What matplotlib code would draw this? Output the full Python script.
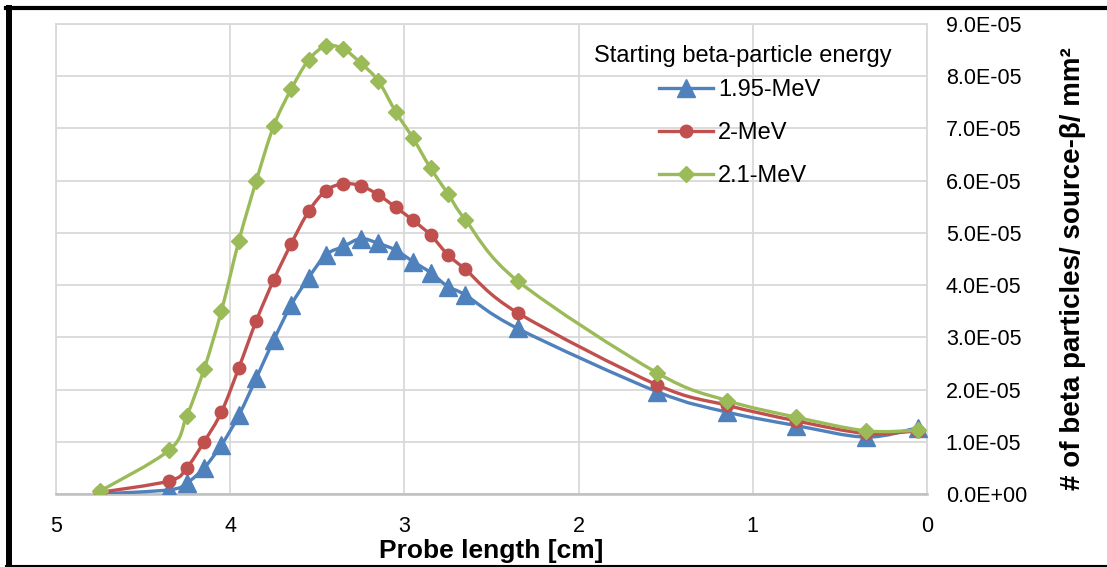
import matplotlib
matplotlib.use("Agg")
import matplotlib.pyplot as plt
import numpy as np
from matplotlib.path import Path
from matplotlib.patches import PathPatch
from matplotlib.lines import Line2D
from matplotlib.ticker import FuncFormatter

plt.rcParams['font.family'] = ['Liberation Sans', 'DejaVu Sans']

# probe length [cm]
probe_len = [4.75, 4.35, 4.25, 4.15, 4.05, 3.95, 3.85, 3.75, 3.65, 3.55, 3.45,
             3.35, 3.25, 3.15, 3.05, 2.95, 2.85, 2.75, 2.65, 2.35, 1.55, 1.15,
             0.75, 0.35, 0.05]

# beta particles / source-beta / mm^2 (units of 1E-05)
e195 = [0.00, 0.08, 0.21, 0.50, 0.94, 1.51, 2.22, 2.95, 3.62, 4.14, 4.58,
        4.74, 4.89, 4.80, 4.67, 4.45, 4.24, 3.97, 3.81, 3.17, 1.96, 1.57,
        1.31, 1.09, 1.27]
e200 = [0.03, 0.25, 0.50, 1.00, 1.57, 2.42, 3.32, 4.10, 4.79, 5.41, 5.81,
        5.94, 5.90, 5.73, 5.49, 5.24, 4.96, 4.58, 4.30, 3.47, 2.09, 1.70,
        1.40, 1.16, 1.21]
e210 = [0.05, 0.84, 1.49, 2.39, 3.51, 4.85, 6.00, 7.05, 7.75, 8.31, 8.58,
        8.52, 8.25, 7.91, 7.32, 6.81, 6.24, 5.75, 5.25, 4.08, 2.32, 1.79,
        1.47, 1.21, 1.22]

labels = ["1.95-MeV", "2-MeV", "2.1-MeV"]
colors = ["#4F81BD", "#C0504D", "#9BBB59"]
markers = ["^", "o", "D"]
msizes = [12.5, 9, 8.5]


def smooth_path(x, y):
    # excel style smoothed line (catmull-rom as bezier segments)
    pts = np.column_stack([x, y])
    verts = [pts[0]]
    codes = [Path.MOVETO]
    n = len(pts)
    for i in range(n - 1):
        p0 = pts[i - 1] if i > 0 else pts[i]
        p1 = pts[i]
        p2 = pts[i + 1]
        p3 = pts[i + 2] if i + 2 < n else pts[i + 1]
        verts += [p1 + (p2 - p0) / 6, p2 - (p3 - p1) / 6, p2]
        codes += [Path.CURVE4] * 3
    return Path(verts, codes)


fig = plt.figure(figsize=(11.07, 5.67), dpi=100)
ax = fig.add_axes([56 / 1107, 73 / 567, 871 / 1107, 470 / 567])

x = np.array(probe_len)
handles = []
for vals, lab, c, m, ms in zip([e195, e200, e210], labels, colors, markers, msizes):
    y = np.array(vals) * 1e-5
    ax.add_patch(PathPatch(smooth_path(x, y), fc="none", ec=c, lw=2.4, zorder=3))
    ax.plot(x, y, ls="none", marker=m, ms=ms, color=c, mec=c, zorder=4)
    handles.append(Line2D([], [], color=c, lw=2.4, marker=m, ms=ms, mec=c))

ax.set_xlim(5, 0)
ax.set_ylim(0, 9e-5)
ax.set_xticks([5, 4, 3, 2, 1, 0])
ax.set_yticks(np.arange(0, 9.1e-5, 1e-5))
ax.yaxis.set_major_formatter(FuncFormatter(lambda v, p: f"{v:.1E}"))
ax.yaxis.tick_right()
ax.yaxis.set_label_position("right")
ax.tick_params(length=0)
ax.tick_params(axis="x", labelsize=15.5, pad=16)
ax.tick_params(axis="y", labelsize=15.5, pad=13.5)
ax.grid(True, color="#d9d9d9", lw=1.3)
ax.set_axisbelow(True)
for s in ax.spines.values():
    s.set_color("#d9d9d9")
    s.set_linewidth(1.3)
ax.spines["bottom"].set_color("#bfbfbf")
ax.spines["bottom"].set_linewidth(1.8)

ax.set_xlabel("Probe length [cm]", fontsize=19, fontweight="bold", labelpad=1)
ax.set_ylabel("# of beta particles/ source-\u03b2/ mm\u00b2", fontsize=20,
              fontweight="bold", labelpad=24)
ax.yaxis.label.set_y(0.48)

ax.text(0.789, 0.932, "Starting beta-particle energy", transform=ax.transAxes,
        ha="center", va="center", fontsize=17)
leg = ax.legend(handles, labels, loc="upper left", bbox_to_anchor=(0.692, 0.882),
                frameon=False, fontsize=17, handlelength=2.3,
                handletextpad=0.2, labelspacing=0.88, borderaxespad=0,
                borderpad=0)

# black frame around the chart
fig.add_artist(Line2D([9 / 1107, 9 / 1107], [0, 1 - 8 / 567], color="black", lw=4.3))
fig.add_artist(Line2D([6 / 1107, 1], [1 - 8 / 567, 1 - 8 / 567], color="black", lw=3))
fig.add_artist(Line2D([6 / 1107, 1], [1.5 / 567, 1.5 / 567], color="black", lw=1.5))

plt.savefig("out.png", dpi=100)
plt.close()
